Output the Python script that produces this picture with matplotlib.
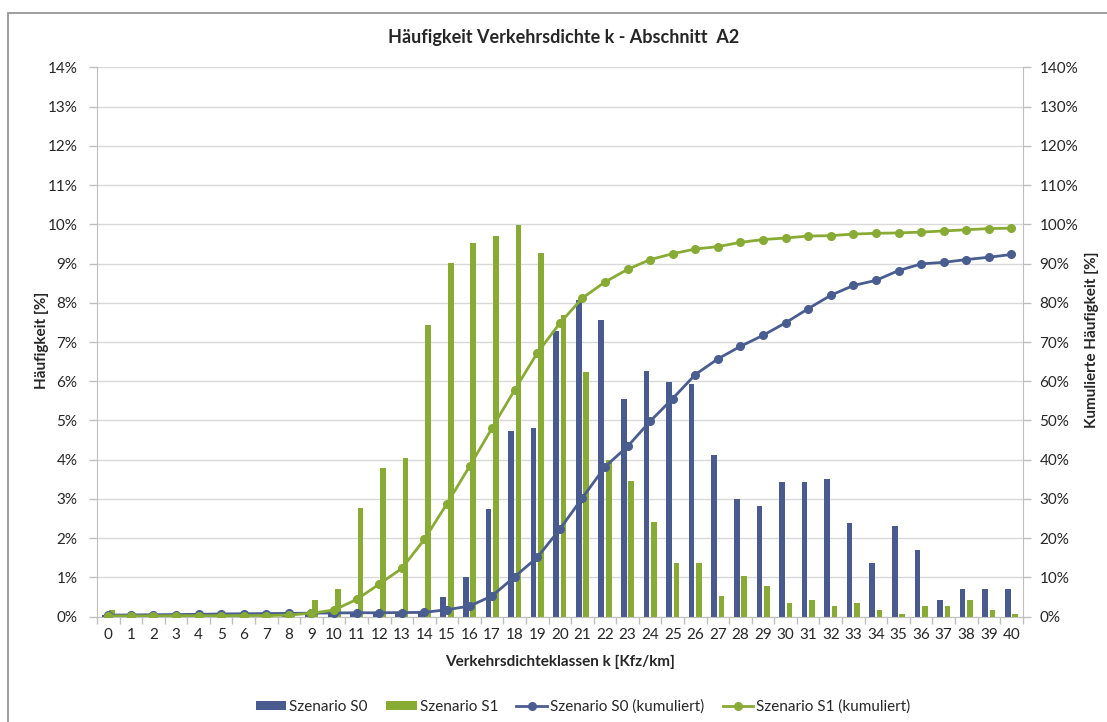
import numpy as np
import matplotlib.pyplot as plt
from matplotlib.patches import Rectangle
from matplotlib.ticker import FixedLocator, FuncFormatter

plt.rcParams['font.family'] = ['Lato', 'DejaVu Sans']

# Verkehrsdichteklassen k [Kfz/km]
klassen = list(range(0, 41))

# Haeufigkeit [%] per class
s0 = [0.05, 0.02, 0.03, 0.04, 0.05, 0.05, 0.06, 0.07, 0.07, 0.07,
      0.08, 0.08, 0.08, 0.09, 0.10, 0.51, 1.02, 2.74, 4.72, 4.80,
      7.29, 8.06, 7.55, 5.56, 6.25, 5.99, 5.92, 4.11, 2.99, 2.82,
      3.43, 3.43, 3.51, 2.40, 1.38, 2.31, 1.71, 0.43, 0.70, 0.70, 0.70]
s1 = [0.17, 0.01, 0.01, 0.01, 0.01, 0.02, 0.02, 0.03, 0.05, 0.43,
      0.70, 2.78, 3.80, 4.05, 7.44, 9.02, 9.53, 9.70, 9.97, 9.27,
      7.68, 6.23, 3.99, 3.45, 2.42, 1.37, 1.37, 0.53, 1.04, 0.78,
      0.34, 0.43, 0.26, 0.34, 0.17, 0.08, 0.26, 0.26, 0.43, 0.17, 0.08]

# kumulierte Haeufigkeit [%]
s0_kum = [0.4, 0.45, 0.5, 0.55, 0.6, 0.7, 0.75, 0.8, 0.85, 0.9,
          0.95, 1.0, 1.0, 1.05, 1.1, 1.8, 2.7, 5.3, 10.2, 15.1,
          22.3, 30.3, 38.2, 43.4, 49.8, 55.6, 61.7, 65.7, 68.9, 71.7,
          74.9, 78.5, 81.9, 84.4, 85.7, 88.2, 89.9, 90.3, 91.0, 91.6, 92.3]
s1_kum = [0.2, 0.2, 0.2, 0.25, 0.25, 0.25, 0.3, 0.3, 0.4, 0.9,
          1.7, 4.4, 8.3, 12.3, 19.7, 28.8, 38.3, 48.1, 57.8, 67.2,
          74.8, 81.2, 85.3, 88.5, 91.0, 92.5, 93.7, 94.3, 95.4, 96.1,
          96.5, 97.0, 97.1, 97.5, 97.7, 97.8, 98.0, 98.3, 98.6, 98.9, 99.0]

blue_bar = '#485A8E'
blue_line = '#4A5D91'
green = '#88AB35'
grid_c = '#D9D9D9'
axis_c = '#BFBFBF'
txt = '#262626'

fig = plt.figure(figsize=(11.07, 7.22), dpi=100)
ax = fig.add_axes([97 / 1107, 105.3 / 722, 925.7 / 1107, 549.4 / 722])

x = np.arange(len(klassen))
w = 0.25
ax.bar(x - 0.165, s0, w, color=blue_bar, label='Szenario S0', zorder=2)
ax.bar(x + 0.165, s1, w, color=green, label='Szenario S1', zorder=2)

ax.set_xlim(-0.5, 40.5)
ax.set_ylim(0, 14)
ax.set_yticks(np.arange(0, 15, 1))
ax.yaxis.set_major_formatter(FuncFormatter(lambda v, p: '%d%%' % v))
ax.set_axisbelow(True)
ax.grid(axis='y', color=grid_c, linewidth=1.0, zorder=0)

ax.set_xticks(x)
ax.set_xticklabels([str(k) for k in klassen])
ax.xaxis.set_minor_locator(FixedLocator(np.arange(-0.5, 41, 1)))
ax.tick_params(axis='x', which='major', length=0, pad=8, labelsize=11, labelcolor=txt)
ax.tick_params(axis='x', which='minor', length=5, color=axis_c, width=1)
ax.tick_params(axis='y', length=6, color=axis_c, width=1, labelsize=11, labelcolor=txt, pad=8)

for s in ['top', 'right']:
    ax.spines[s].set_visible(False)
for s in ['left', 'bottom']:
    ax.spines[s].set_color(axis_c)

ax2 = ax.twinx()
ax2.plot(x, s0_kum, color=blue_line, linewidth=2.0, marker='o', markersize=5.5,
         label='Szenario S0 (kumuliert)', zorder=3)
ax2.plot(x, s1_kum, color=green, linewidth=2.0, marker='o', markersize=5.5,
         label='Szenario S1 (kumuliert)', zorder=4)
ax2.set_ylim(0, 140)
ax2.set_yticks(np.arange(0, 141, 10))
ax2.yaxis.set_major_formatter(FuncFormatter(lambda v, p: '%d%%' % v))
ax2.tick_params(axis='y', length=6, color=axis_c, width=1, labelsize=11, labelcolor=txt, pad=6)
for s in ['top', 'left', 'bottom']:
    ax2.spines[s].set_visible(False)
ax2.spines['right'].set_color(axis_c)

fig.text(564 / 1107, 1 - 37 / 722, 'Häufigkeit Verkehrsdichte k - Abschnitt  A2',
         ha='center', va='center', fontsize=13, fontweight='bold', color=txt)
fig.text(560 / 1107, 1 - 662 / 722, 'Verkehrsdichteklassen k [Kfz/km]',
         ha='center', va='center', fontsize=11, fontweight='bold', color=txt)
fig.text(42 / 1107, 1 - 340 / 722, 'Häufigkeit [%]', rotation=90,
         ha='center', va='center', fontsize=11, fontweight='bold', color=txt)
fig.text(1092 / 1107, 1 - 340 / 722, 'Kumulierte Häufigkeit [%]', rotation=90,
         ha='center', va='center', fontsize=11, fontweight='bold', color=txt)

h1, l1 = ax.get_legend_handles_labels()
h2, l2 = ax2.get_legend_handles_labels()
fig.legend(h1 + h2, l1 + l2, loc='center', bbox_to_anchor=(583 / 1107, 1 - 707 / 722),
           ncol=4, frameon=False, fontsize=11, handlelength=2.0, handleheight=0.5,
           columnspacing=1.2, handletextpad=0.2, labelcolor=txt)

fig.patches.append(Rectangle((8 / 1107, -0.1), 1.2, 0.1 + 1 - 13 / 722, transform=fig.transFigure,
                             fill=False, edgecolor='#8C8C8C', linewidth=1.2))

fig.savefig('out.png', dpi=100)
